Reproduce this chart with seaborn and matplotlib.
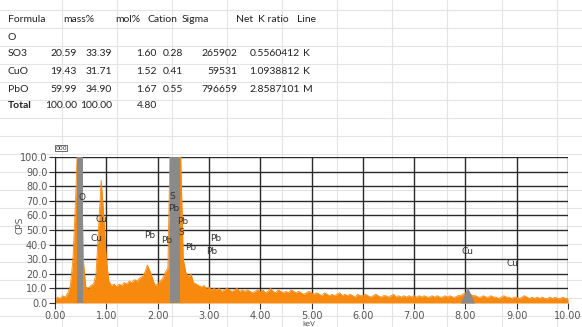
import numpy as np
import matplotlib
matplotlib.use("Agg")
import matplotlib.pyplot as plt
import seaborn as sns

# EDS spectrum, 0.05 keV steps from 0 to 10 keV
energy = np.round(np.arange(0, 10.001, 0.05), 2)
counts = [
    2, 4, 3, 5, 4, 7, 12, 30, 70, 120, 130, 30, 11, 10, 12, 13, 20, 52, 84, 60,
    30, 15, 12, 13, 11, 13, 12, 14, 13, 15, 14, 16, 15, 17, 18, 21, 26, 22, 17, 12,
    13, 15, 17, 21, 24, 120, 130, 130, 130, 100, 30, 21, 18, 20, 14, 13, 12, 11, 12, 10,
    11, 9, 10, 9, 10, 8, 9, 10, 9, 8, 9, 10, 8, 9, 8, 9, 8, 7, 8, 9,
    8, 9, 7, 8, 10, 8, 7, 9, 8, 7, 8, 7, 9, 8, 7, 8, 7, 6, 7, 8,
    7, 6, 7, 6, 5, 7, 6, 5, 6, 5, 6, 7, 5, 6, 5, 6, 5, 4, 6, 5,
    5, 6, 5, 4, 5, 6, 5, 4, 5, 5, 4, 5, 6, 4, 5, 4, 5, 4, 5, 4,
    5, 4, 5, 4, 5, 4, 4, 5, 4, 5, 4, 4, 5, 4, 5, 4, 4, 5, 5, 6,
    7, 7, 6, 5, 5, 4, 4, 5, 4, 4, 5, 4, 4, 3, 4, 5, 4, 4, 3, 4,
    4, 3, 4, 5, 4, 3, 4, 3, 4, 3, 4, 3, 3, 4, 3, 4, 3, 3, 4, 3, 3,
]

# fitted peak regions (grey)
roi_start = [0.43, 2.24]
roi_end = [0.55, 2.44]
cuk_e = [7.90, 8.04, 8.18]
cuk_v = [0, 11, 0]

# peak labels
lab_text = ["O", "Cu", "Cu", "Pb", "Pb", "S", "Pb", "Pb", "S", "Pb", "Pb", "Pb", "Cu", "Cu"]
lab_e = [0.52, 0.91, 0.81, 1.85, 2.18, 2.29, 2.31, 2.49, 2.46, 2.65, 3.14, 3.05, 8.05, 8.92]
lab_v = [72, 57, 44, 46, 43, 73, 65, 56, 48, 38, 44, 35, 35, 27]

# quant table
header = ["Formula", "mass%", "mol%", "Cation", "Sigma", "Net", "K ratio", "Line"]
formula = ["SO3", "CuO", "PbO"]
mass = [20.59, 19.43, 59.99]
mol = [33.39, 31.71, 34.90]
cation = [1.60, 1.52, 1.67]
sigma = [0.28, 0.41, 0.55]
net = [265902, 59531, 796659]
kratio = [0.5560412, 1.0938812, 2.8587101]
line = ["K", "K", "M"]
total = [100.00, 100.00, 4.80]

W, H = 582, 327
orange = "#f7890f"
grey = "#8a8a8a"

sns.set_style("white")
plt.rcParams["font.family"] = ["Lato", "DejaVu Sans"]

fig = plt.figure(figsize=(W / 100, H / 100), dpi=100)

# spreadsheet background grid
bg = fig.add_axes([0, 0, 1, 1])
bg.set_xlim(0, W)
bg.set_ylim(H, 0)
bg.axis("off")
for xx in np.arange(62, W, 55):
    bg.axvline(xx, color="#e4e4e4", lw=0.8)
for yy in np.arange(10, H, 18):
    bg.axhline(yy, color="#e4e4e4", lw=0.8)

# table text
def put(x, y, s, ha="left", bold=False):
    bg.text(x, y, s, ha=ha, va="center", fontsize=7.5, color="#222222",
            fontweight="bold" if bold else "normal")

hx = [8, 63, 115, 148, 182, 236, 258, 297]
for x, s in zip(hx, header):
    put(x, 20, s)
put(8, 37, "O")
for i, f in enumerate(formula):
    y = 54 + 17.5 * i
    put(8, y, f)
    put(77, y, f"{mass[i]:.2f}", "right")
    put(112, y, f"{mol[i]:.2f}", "right")
    put(157, y, f"{cation[i]:.2f}", "right")
    put(183, y, f"{sigma[i]:.2f}", "right")
    put(237, y, f"{net[i]}", "right")
    put(300, y, f"{kratio[i]:.7f}", "right")
    put(303, y, line[i])
put(8, 106, "Total", bold=True)
put(77, 106, f"{total[0]:.2f}", "right")
put(112, 106, f"{total[1]:.2f}", "right")
put(157, 106, f"{total[2]:.2f}", "right")

# spectrum axes
ax = fig.add_axes([55 / W, 1 - 303 / H, 513 / W, 146 / H])
ax.patch.set_alpha(0)
ax.fill_between(energy, 0, counts, color=orange, lw=0, zorder=2)
sns.lineplot(x=energy, y=counts, color=orange, lw=0.6, ax=ax, zorder=2)
for a, b in zip(roi_start, roi_end):
    ax.fill_between([a, b], 0, 100, color=grey, lw=0, zorder=3)
ax.fill_between(cuk_e, 0, cuk_v, color=grey, lw=0, zorder=3)
for s, e, v in zip(lab_text, lab_e, lab_v):
    ax.text(e, v, s, ha="center", va="center", fontsize=6.5, color="#333333",
            family="DejaVu Sans", zorder=4)

ax.set_xlim(0, 10)
ax.set_ylim(0, 100)
ax.set_xticks(np.arange(0, 11, 1))
ax.set_yticks(np.arange(0, 101, 10))
ax.set_xticklabels([f"{t:.2f}" for t in range(11)])
ax.set_yticklabels([f"{t:.1f}" for t in range(0, 101, 10)])
ax.grid(True, color="#2a2a2a", lw=1.0, zorder=1)
ax.set_axisbelow(True)
for sp in ax.spines.values():
    sp.set_visible(False)
ax.spines["left"].set_visible(True)
ax.spines["left"].set_color("#222222")
ax.tick_params(axis="both", length=4, width=0.8, color="#333333",
               labelsize=7, labelcolor="#555555", pad=1.5)
for t in ax.get_xticklabels() + ax.get_yticklabels():
    t.set_family("DejaVu Sans")
ax.tick_params(axis="y", left=True)
ax.tick_params(axis="x", bottom=True)
ax.set_xlabel("")
ax.set_ylabel("")

fig.text(20 / W, 1 - 225 / H, "CPS", rotation=90, ha="center", va="center",
         fontsize=6.5, color="#555555", family="DejaVu Sans")
fig.text(309 / W, 1 - 326.5 / H, "keV", ha="center", va="bottom",
         fontsize=5, color="#555555", family="DejaVu Sans")
fig.text(61 / W, 1 - 148 / H, "000", ha="center", va="center", fontsize=4.5,
         color="#333333", family="DejaVu Sans",
         bbox=dict(boxstyle="square,pad=0.1", fc="white", ec="#333333", lw=0.5))

fig.savefig("out.png", dpi=100)
